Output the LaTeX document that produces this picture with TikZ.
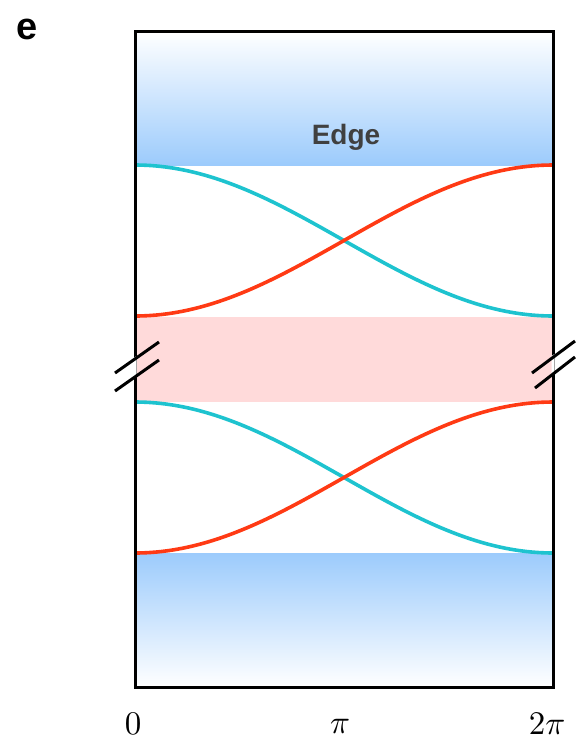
\documentclass[tikz,border=0pt]{standalone}
\usepackage{fontspec}
\newfontfamily\lsans{Liberation Sans}
\definecolor{bandblue}{HTML}{9CCBFC}
\definecolor{bandpink}{HTML}{FFDADA}
\definecolor{curvecyan}{HTML}{1EC3CF}
\definecolor{curvered}{HTML}{FF3A14}
\definecolor{edgegray}{HTML}{404040}
\newcommand{\ticktext}[1]{\scalebox{3.3}{$#1$}}
\tikzset{
  curve/.style={line width=3.6pt},
  frameline/.style={line width=3pt, black},
  breakmark/.style={line width=3pt, black},
  ticklabel/.style={inner sep=0pt},
}
\begin{document}
\begin{tikzpicture}[x=1pt,y=-1pt]
\useasboundingbox (0,0) rectangle (578,740);
% bands
\shade[top color=white, bottom color=bandblue] (135,31) rectangle (553,165);
\shade[top color=bandblue, bottom color=white] (135,553) rectangle (553,687);
\fill[bandpink] (135,317) rectangle (553,402);
\node[font=\lsans\bfseries\fontsize{28}{32}\selectfont, text=edgegray, inner sep=0pt] (edge) at (346,137.5) {Edge};
% curves
\draw[curve, curvecyan] plot[domain=0:1, samples=80] ({135+418*\x},{165+151*(1-cos(180*\x))/2});
\draw[curve, curvered] plot[domain=0:1, samples=80] ({135+418*\x},{316-151*(1-cos(180*\x))/2});
\draw[curve, curvecyan] plot[domain=0:1, samples=80] ({135+418*\x},{402+151*(1-cos(180*\x))/2});
\draw[curve, curvered] plot[domain=0:1, samples=80] ({135+418*\x},{553-151*(1-cos(180*\x))/2});
% frame
\draw[frameline] (135,31) rectangle (553,687);
% break marks
\fill[white] (133.5,358) -- (136.5,356) -- (136.5,377) -- (133.5,379) -- cycle;
\fill[white] (551.5,356) -- (554.5,354) -- (554.5,374) -- (551.5,376) -- cycle;
\coordinate (bl1a) at (115,373); \coordinate (bl1b) at (159,342);
\coordinate (bl2a) at (115,391); \coordinate (bl2b) at (159,360);
\coordinate (br1a) at (532,373); \coordinate (br1b) at (575,341);
\coordinate (br2a) at (535,388); \coordinate (br2b) at (575,357);
\draw[breakmark] (bl1a) -- (bl1b);
\draw[breakmark] (bl2a) -- (bl2b);
\draw[breakmark] (br1a) -- (br1b);
\draw[breakmark] (br2a) -- (br2b);
% labels
\node[ticklabel] (t0) at (133,724) {\ticktext{0}};
\node[ticklabel] (tpi) at (340,726) {\ticktext{\pi}};
\node[ticklabel] (t2pi) at (547,724) {\ticktext{2\pi}};
\node[font=\lsans\bfseries\fontsize{38}{40}\selectfont, inner sep=0pt] (panel) at (27,29) {e};
\end{tikzpicture}
\end{document}
